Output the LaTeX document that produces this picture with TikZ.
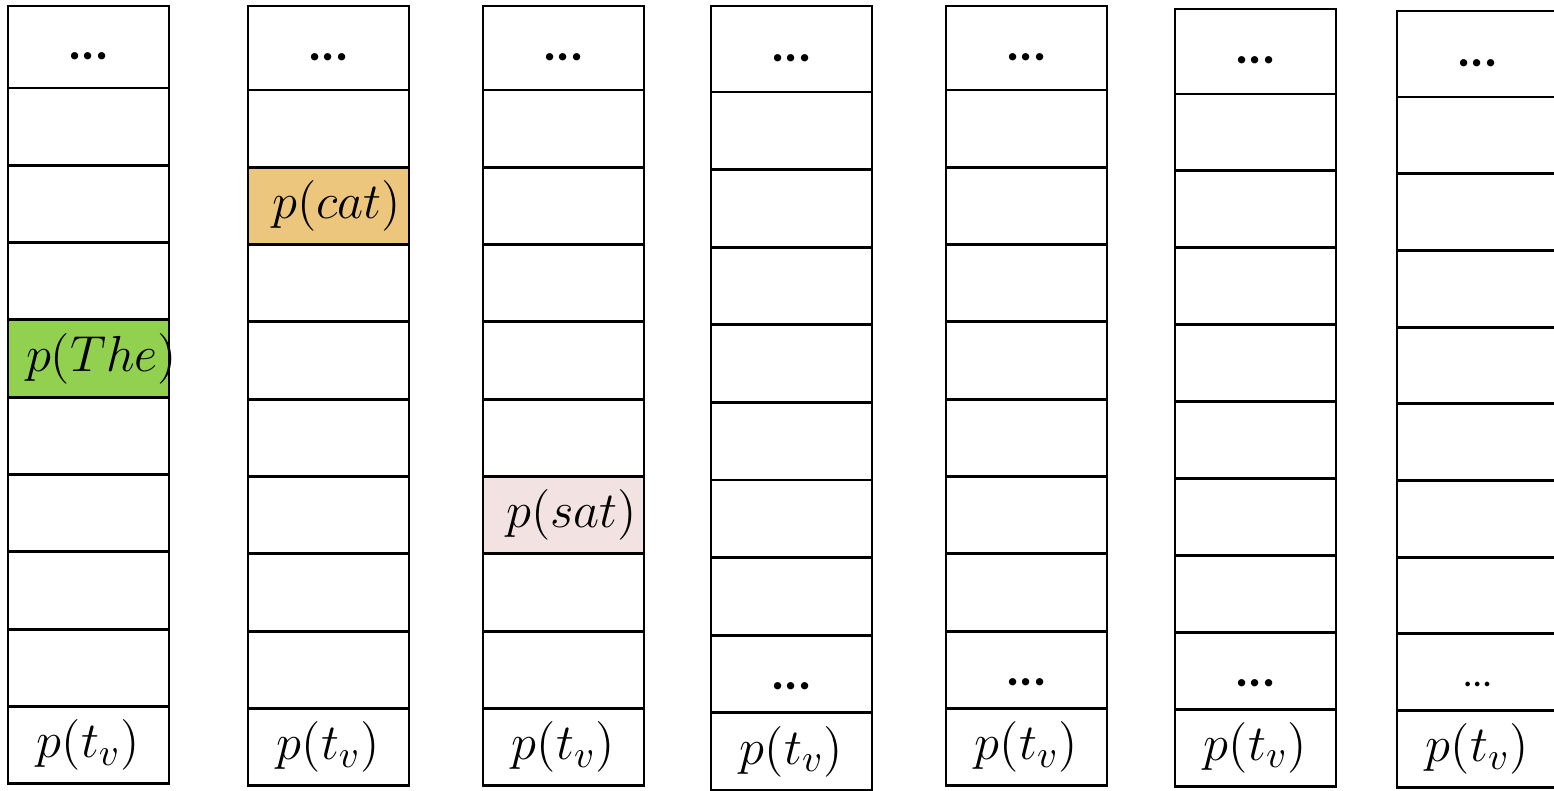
\documentclass[tikz,border=0pt]{standalone}
\usepackage{fontspec}
\usepackage{tikz}
\newfontfamily\dotfont{Carlito}
\definecolor{thegreen}{RGB}{146,208,80}
\definecolor{catorange}{RGB}{235,198,124}
\definecolor{satpink}{RGB}{242,226,226}
\tikzstyle{cell}=[shape=rectangle,
                  draw=black,
                  line width=0.8pt,
                  minimum width=1.61cm,
                  inner sep=0pt]
\tikzstyle{prob}=[inner sep=0pt,
                  font=\fontsize{15}{18}\selectfont]
\tikzstyle{dots}=[inner sep=0pt,
                  font=\dotfont\bfseries\fontsize{14}{16}\selectfont]

\begin{document}
\begin{tikzpicture}[x=0.01cm,y=-0.01cm]
\useasboundingbox (0,0) rectangle (1554,791);
\clip (0,0) rectangle (1554,791);

% one column per time step:
% index / left edge / top edge / height of first row / height of other rows
\foreach \c/\x/\t/\f/\h in {1/8/6/82/77.3, 2/248/6/84/77.3, 3/483/6/84/77.3,
                            4/711/6/86/77.6, 5/946/6/84/77.3, 6/1175/9/85/76.9,
                            7/1397/11/86/76.7} {
  \node[cell, minimum height={\f*0.01cm}] (c\c r1) at (\x+80.5, {\t+\f/2}) {};
  \foreach \r in {2,...,10} {
    \node[cell, minimum height={\h*0.01cm}] (c\c r\r) at (\x+80.5, {\t+\f+(\r-1.5)*\h}) {};
  }
  % vocabulary continues above, probability of t_v at the bottom
  \node[dots, yshift=-0.09cm] (top\c) at (c\c r1) {...};
  \node[prob] (pv\c) at (c\c r10) {$p(t_v)$};
}

% continuation marks near the bottom of the later columns
\node[dots, yshift=-0.12cm] (bot4) at (c4r9) {...};
\node[dots, yshift=-0.12cm] (bot5) at (c5r9) {...};
\node[dots, yshift=-0.12cm] (bot6) at (c6r9) {...};
\node[dots, yshift=-0.12cm, font=\dotfont\fontsize{11}{13}\selectfont] (bot7) at (c7r9) {…};

% highlighted tokens
\node[cell, fill=thegreen, minimum height=0.773cm] (the) at (c1r5) {};
\node[cell, fill=catorange, minimum height=0.773cm] (cat) at (c2r3) {};
\node[cell, fill=satpink, minimum height=0.773cm] (sat) at (c3r7) {};
\node[prob] (pthe) at ([xshift=0.13cm]the) {$p(The)$};
\node[prob] (pcat) at ([xshift=0.08cm]cat) {$p(cat)$};
\node[prob] (psat) at ([xshift=0.08cm]sat) {$p(sat)$};

\end{tikzpicture}
\end{document}
